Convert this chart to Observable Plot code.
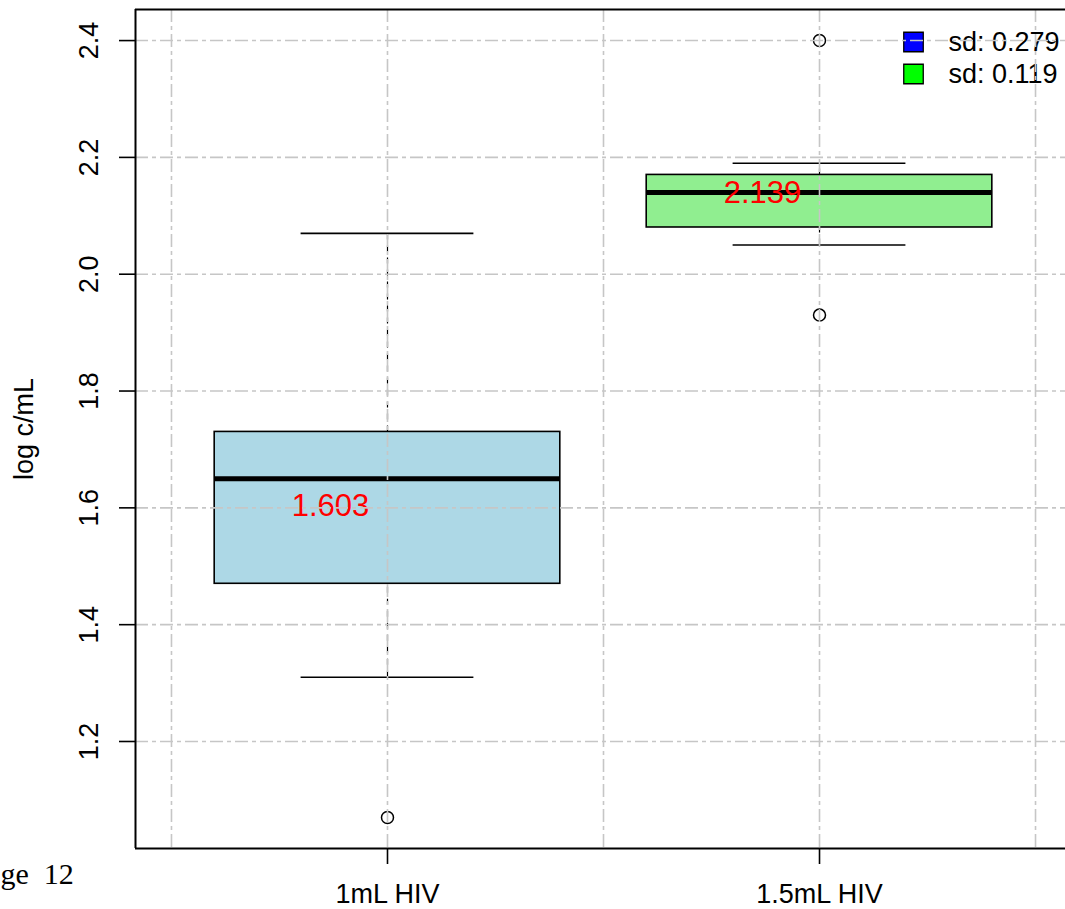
<!DOCTYPE html>
<html><head><meta charset="utf-8">
<script src="https://cdn.jsdelivr.net/npm/d3@7"></script>
<script src="https://cdn.jsdelivr.net/npm/@observablehq/plot@0.6"></script>
<style>html,body{margin:0;padding:0;background:#fff;overflow:hidden}</style>
</head><body><div id="chart"></div>
<script>
const categories = ["1mL HIV", "1.5mL HIV"];
const positions = [1, 2];
const q1 = [1.47, 2.08];
const q3 = [1.73, 2.17];
const medians = [1.65, 2.14];
const whiskerLow = [1.31, 2.05];
const whiskerHigh = [2.07, 2.19];
const outlierGroup = [1, 2, 2];
const outlierValues = [1.07, 2.40, 1.93];
const means = [1.603, 2.139];
const sds = [0.279, 0.119];
const boxFills = ["#ADD8E6", "#90EE90"];
const legendFills = ["#0000FF", "#00FF00"];
const yTicks = [1.2, 1.4, 1.6, 1.8, 2.0, 2.2, 2.4];
const xGrid = [0.5, 1, 1.5, 2, 2.5];
const yLabel = "log c/mL";
const pageText = "ge  12";

const boxes = categories.map((c, i) => ({
  cat: c, pos: positions[i], q1: q1[i], q3: q3[i], med: medians[i],
  lo: whiskerLow[i], hi: whiskerHigh[i], mean: means[i], fill: boxFills[i]
}));
const outliers = outlierGroup.map((g, i) => ({pos: g, v: outlierValues[i]}));

const xDomain = [0.4167, 2.5694];
const yDomain = [1.0168, 2.4532];
const font = "'Liberation Sans', Arial, Helvetica, sans-serif";
const gridStyle = {stroke: "#c6c6c6", strokeWidth: 1.6, strokeDasharray: "13,4,4,4"};
const boxHalf = 0.4, stapleHalf = 0.2;

const legendMarks = sds.flatMap((s, i) => [
  Plot.dot([s], {frameAnchor: "top-right", dx: -152, dy: 32.5 + i * 32, symbol: "square", r: 11,
    fill: legendFills[i], stroke: "black", strokeWidth: 1.3}),
  Plot.text([s], {frameAnchor: "top-right", dx: -117, dy: 33 + i * 32, text: d => `sd: ${d.toFixed(3)}`,
    textAnchor: "start", lineAnchor: "middle", fontSize: 27, fill: "black"})
]);

const plot = Plot.plot({
  width: 1065, height: 909,
  marginLeft: 135, marginRight: 0, marginTop: 9, marginBottom: 61,
  style: {fontFamily: font, background: "white", overflow: "visible"},
  x: {type: "linear", domain: xDomain, axis: null, label: null},
  y: {type: "linear", domain: yDomain, axis: null, label: null},
  color: {type: "identity"},
  marks: [
    Plot.ruleX(boxes, {x: "pos", y1: "q3", y2: "hi", stroke: "black", strokeWidth: 1.2, strokeDasharray: "6,6"}),
    Plot.ruleX(boxes, {x: "pos", y1: "lo", y2: "q1", stroke: "black", strokeWidth: 1.2, strokeDasharray: "6,6"}),
    Plot.ruleY(boxes, {y: "hi", x1: d => d.pos - stapleHalf, x2: d => d.pos + stapleHalf, stroke: "black", strokeWidth: 1.6}),
    Plot.ruleY(boxes, {y: "lo", x1: d => d.pos - stapleHalf, x2: d => d.pos + stapleHalf, stroke: "black", strokeWidth: 1.6}),
    Plot.rect(boxes, {x1: d => d.pos - boxHalf, x2: d => d.pos + boxHalf, y1: "q1", y2: "q3",
      fill: "fill", stroke: "black", strokeWidth: 1.6}),
    Plot.ruleY(boxes, {y: "med", x1: d => d.pos - boxHalf, x2: d => d.pos + boxHalf, stroke: "black", strokeWidth: 5}),
    Plot.dot(outliers, {x: "pos", y: "v", r: 6, stroke: "black", fill: "none", strokeWidth: 1.5}),
    Plot.text(boxes, {x: "pos", y: "mean", text: d => d.mean.toFixed(3), dx: -57, fill: "#FF0000",
      fontSize: 31, textAnchor: "middle", lineAnchor: "middle"}),
    ...legendMarks,
    Plot.ruleY(yTicks, {y: d => d, ...gridStyle}),
    Plot.ruleX(xGrid, {x: d => d, ...gridStyle}),
    Plot.ruleX([xDomain[0]], {x: d => d, stroke: "black", strokeWidth: 2}),
    Plot.ruleY(yDomain, {y: d => d, stroke: "black", strokeWidth: 2}),
    Plot.axisY(yTicks, {tickSize: 16, tickFormat: () => "", label: null, stroke: "black", strokeWidth: 1.6}),
    Plot.axisX(positions, {tickSize: 16, tickFormat: () => "", label: null, stroke: "black", strokeWidth: 1.6}),
    Plot.text(yTicks, {y: d => d, text: d => d.toFixed(1), frameAnchor: "left", dx: -38, rotate: -90,
      textAnchor: "middle", lineAnchor: "bottom", fontSize: 27, fill: "black"}),
    Plot.text(boxes, {x: "pos", text: "cat", frameAnchor: "bottom", dy: 54, lineAnchor: "bottom",
      fontSize: 27, fill: "black"}),
    Plot.text([yLabel], {text: d => d, frameAnchor: "left", dx: -103, rotate: -90, textAnchor: "middle",
      lineAnchor: "bottom", fontSize: 27, fill: "black"}),
    Plot.text([pageText], {text: d => d, frameAnchor: "bottom-left", dx: -135, dy: 35, textAnchor: "start",
      lineAnchor: "bottom", fontFamily: "'Liberation Serif', 'Times New Roman', serif", fontSize: 30, fill: "black"})
  ]
});
document.getElementById("chart").appendChild(plot);
</script>
</body></html>
